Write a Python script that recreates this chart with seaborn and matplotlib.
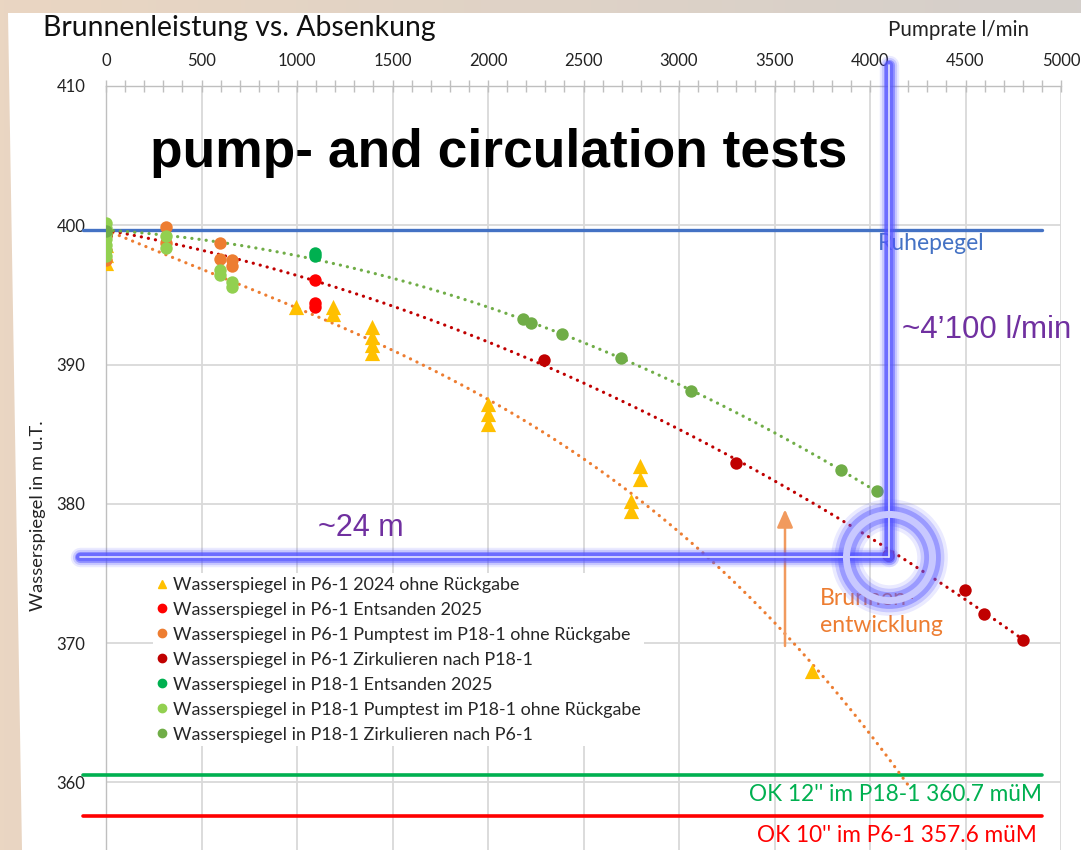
import numpy as np
import pandas as pd
import matplotlib
matplotlib.use("Agg")
import matplotlib.pyplot as plt
import seaborn as sns
from matplotlib.lines import Line2D
from matplotlib.patches import Polygon
from matplotlib.ticker import MultipleLocator

sns.set_theme(style="white")
plt.rcParams['font.family'] = ['Lato', 'DejaVu Sans']

# ---------------- data ----------------
series_names = [
    "Wasserspiegel in P6-1 2024 ohne Rückgabe",
    "Wasserspiegel in P6-1 Entsanden 2025",
    "Wasserspiegel in P6-1 Pumptest im P18-1 ohne Rückgabe",
    "Wasserspiegel in P6-1 Zirkulieren nach P18-1",
    "Wasserspiegel in P18-1 Entsanden 2025",
    "Wasserspiegel in P18-1 Pumptest im P18-1 ohne Rückgabe",
    "Wasserspiegel in P18-1 Zirkulieren nach P6-1",
]
series_colors = ["#FFC000", "#FF0000", "#ED7D31", "#C00000", "#00B050", "#92D050", "#70AD47"]
series_markers = ["^", "o", "o", "o", "o", "o", "o"]

p6_2024_x = [0, 0, 0, 995, 1188, 1188, 1393, 1393, 1393, 1393, 2000, 2000, 2000, 2749, 2749, 2796, 2796, 3696]
p6_2024_y = [398.6, 397.9, 397.3, 394.1, 394.1, 393.6, 392.7, 392.0, 391.4, 390.8, 387.2, 386.45, 385.7,
             380.2, 379.5, 382.7, 381.8, 368.0]

p6_ents_x = [1095, 1095, 1095]
p6_ents_y = [396.1, 394.4, 394.1]

p6_pump_x = [0, 0, 0, 314, 314, 597, 597, 660, 660]
p6_pump_y = [399.3, 398.2, 397.5, 399.9, 398.7, 398.7, 397.6, 397.5, 397.1]

p6_zirk_x = [0, 2293, 3298, 4094, 4497, 4597, 4801]
p6_zirk_y = [399.3, 390.3, 382.9, 376.3, 373.8, 372.1, 370.2]

p18_ents_x = [1095, 1095]
p18_ents_y = [398.0, 397.8]

p18_pump_x = [0, 0, 0, 0, 0, 0, 0, 314, 314, 597, 597, 660, 660]
p18_pump_y = [400.2, 399.8, 399.4, 399.0, 398.6, 398.2, 397.8, 399.2, 398.4, 396.8, 396.4, 395.9, 395.6]

p18_zirk_x = [0, 2183, 2225, 2387, 2696, 3063, 3848, 4037]
p18_zirk_y = [399.6, 393.3, 393.0, 392.2, 390.5, 388.1, 382.4, 380.9]

series_x = [p6_2024_x, p6_ents_x, p6_pump_x, p6_zirk_x, p18_ents_x, p18_pump_x, p18_zirk_x]
series_y = [p6_2024_y, p6_ents_y, p6_pump_y, p6_zirk_y, p18_ents_y, p18_pump_y, p18_zirk_y]

# trendlines: series index, colour, polynomial order, forward forecast
trend_series = [0, 3, 6]
trend_colors = ["#ED7D31", "#C00000", "#70AD47"]
trend_order = [3, 2, 2]
trend_forward = [500, 0, 0]

ruhepegel = 399.66
ok12_level = 360.5
ok10_level = 357.6
ref_line_x = [-120, 4900]

marker_flow = 4100
marker_level = 376.2

xticks = list(range(0, 5001, 500))
yticks = list(range(360, 411, 10))

# ---------------- figure ----------------
W, H = 1081, 850
fig = plt.figure(figsize=(W / 100, H / 100), dpi=100)

bg = fig.add_axes([0, 0, 1, 1], zorder=-10)
grad = np.linspace(0, 1, 256)[None, :]
c1 = np.array([0xEA, 0xD6, 0xC2]) / 255
c2 = np.array([0xD4, 0xCF, 0xCB]) / 255
img = c1[None, None, :] * (1 - grad[..., None]) + c2[None, None, :] * grad[..., None]
bg.imshow(img, extent=[0, 1, 0, 1], aspect="auto")
bg.add_patch(Polygon([(8 / W, 1 - 13 / H), (1, 1 - 13 / H), (1, 0), (22 / W, 0)],
                     closed=True, facecolor="white", edgecolor="none", transform=bg.transAxes))
bg.set_xlim(0, 1)
bg.set_ylim(0, 1)
bg.axis("off")

ax = fig.add_axes([106 / W, 0, 955 / W, 764 / H])
ax.set_facecolor("white")
ax.set_xlim(0, 5000)
ax.set_ylim(355.15, 410)

# grid & axes
ax.xaxis.set_ticks_position("top")
ax.xaxis.set_label_position("top")
ax.set_xticks(xticks)
ax.set_yticks(yticks)
ax.xaxis.set_minor_locator(MultipleLocator(100))
ax.yaxis.set_minor_locator(MultipleLocator(1))
ax.grid(True, which="major", color="#D9D9D9", lw=1.3, zorder=0)
ax.tick_params(which="both", direction="inout", length=8, width=1, color="#BFBFBF")
ax.tick_params(axis="x", which="major", pad=8, labelsize=12, labelcolor="#222222")
ax.tick_params(axis="y", which="major", pad=11, labelsize=12, labelcolor="#222222")
for s in ["right", "bottom"]:
    ax.spines[s].set_visible(False)
for s in ["top", "left"]:
    ax.spines[s].set_color("#BFBFBF")
    ax.spines[s].set_linewidth(1)

# reference lines
ax.plot(ref_line_x, [ruhepegel] * 2, color="#4472C4", lw=2.4, zorder=3, clip_on=False)
ax.plot(ref_line_x, [ok12_level] * 2, color="#00B050", lw=2.6, zorder=3, clip_on=False)
ax.plot(ref_line_x, [ok10_level] * 2, color="#FF0000", lw=2.6, zorder=3, clip_on=False)

# trendlines: polynomial fit with intercept fixed at the Ruhepegel (Excel "set intercept")
for idx, col, order, fwd in zip(trend_series, trend_colors, trend_order, trend_forward):
    xs = np.array(series_x[idx], float)
    ys = np.array(series_y[idx], float)
    A = np.column_stack([xs ** k for k in range(1, order + 1)])
    coef, *_ = np.linalg.lstsq(A, ys - ruhepegel, rcond=None)
    xx = np.linspace(0, xs.max() + fwd, 200)
    yy = ruhepegel + sum(c * xx ** (k + 1) for k, c in enumerate(coef))
    ax.plot(xx, yy, color=col, lw=2.3, linestyle=(0, (0.05, 2.2)),
            dash_capstyle="round", zorder=4)

# scatter points via seaborn
for name, xs, ys, col, mk in zip(series_names, series_x, series_y, series_colors, series_markers):
    df = pd.DataFrame({"x": xs, "y": ys})
    sns.scatterplot(data=df, x="x", y="y", ax=ax, color=col, marker=mk,
                    s=120 if mk == "^" else 80, linewidth=0, legend=False, zorder=5)
ax.set_xlabel("")
ax.set_ylabel("Wasserspiegel in m u.T.", fontsize=13.2, color="#222222")
ax.yaxis.set_label_coords(-0.063, 0.437)

# legend
handles = [Line2D([], [], linestyle="none", marker=mk, color=col, markersize=6)
           for col, mk in zip(series_colors, series_markers)]
leg = ax.legend(handles, series_names, loc="upper left", bbox_to_anchor=(0.04, 0.374),
                frameon=True, facecolor="white", edgecolor="none", framealpha=1,
                fontsize=12.9, handlelength=0.6, handletextpad=0.3, labelspacing=0.5,
                borderpad=0.2)
leg.set_zorder(6)

# texts
fig.text(43 / W, 1 - 28 / H, "Brunnenleistung vs. Absenkung", fontsize=20.4, color="#111111",
         ha="left", va="center")
fig.text(958 / W, 1 - 30 / H, "Pumprate l/min", fontsize=14.8, color="#222222", ha="center", va="center")

ax.text(230, 405.2, "pump- and circulation tests", fontsize=38.4, fontweight="bold",
        family="Liberation Sans", color="black", ha="left", va="center", zorder=10)
ax.text(4042, 398.66, "Ruhepegel", fontsize=16.5, color="#4472C4", ha="left", va="center", zorder=7)
ax.text(4900, 359.1, "OK 12'' im P18-1 360.7 müM", fontsize=16.3, color="#00B050",
        ha="right", va="center", zorder=7)
ax.text(4875, 356.2, "OK 10'' im P6-1 357.6 müM", fontsize=16.3, color="#FF0000",
        ha="right", va="center", zorder=7, clip_on=False)
ax.text(3738, 372.25, "Brunnen-\nentwicklung", fontsize=16.6, color="#ED7D31",
        ha="left", va="center", linespacing=1.38, zorder=7)

# arrow
ax.annotate("", xy=(3555, 379.8), xytext=(3555, 369.6),
            arrowprops=dict(arrowstyle="-|>,head_width=0.4,head_length=0.9", color="#F19A5E", lw=1.8),
            zorder=7)

# glow annotations
glow_col = "#5454FF"
def glow_line(xs, ys):
    for lw, a in [(14, 0.12), (11, 0.22), (8, 0.45), (6, 0.6)]:
        ax.plot(xs, ys, color=glow_col, lw=lw, alpha=a, solid_capstyle="round",
                clip_on=False, zorder=8)
    ax.plot(xs, ys, color="#E4E4FF", lw=1.2, clip_on=False, zorder=9)

glow_line([marker_flow, marker_flow], [411.5, marker_level])
glow_line([-136, marker_flow], [marker_level, marker_level])

for mew, a in [(22, 0.12), (17, 0.22), (12, 0.4)]:
    ax.plot([marker_flow], [marker_level], marker="o", markersize=62, markerfacecolor="none",
            markeredgecolor=glow_col, markeredgewidth=mew, alpha=a, zorder=8, clip_on=False)
ax.plot([marker_flow], [marker_level], marker="o", markersize=62, markerfacecolor="none",
        markeredgecolor="#C8C8FF", markeredgewidth=5, zorder=9, clip_on=False)

ax.text(1110, 378.3, "~24 m", fontsize=22, family="Liberation Sans", color="#7030A0",
        ha="left", va="center", zorder=10)
ax.text(4170, 392.5, "~4’100 l/min", fontsize=22.5, family="Liberation Sans", color="#7030A0",
        ha="left", va="center", zorder=10, clip_on=False)

fig.savefig("out.png", dpi=100)
